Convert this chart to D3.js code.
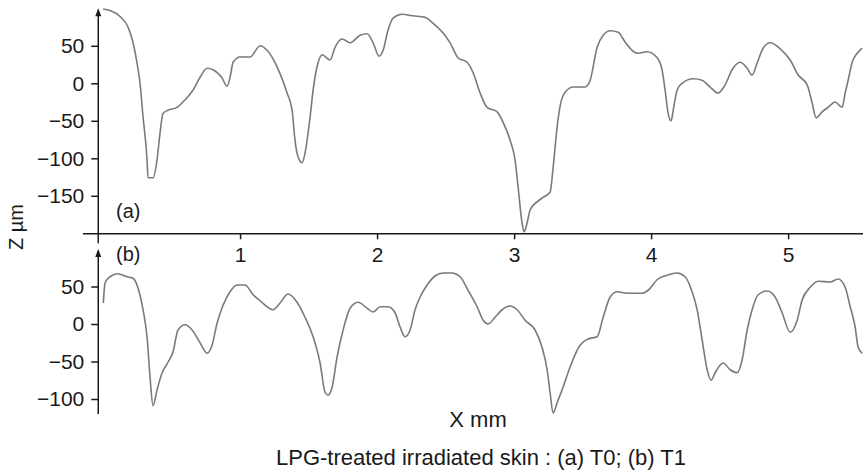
<!DOCTYPE html>
<html>
<head>
<meta charset="utf-8">
<script src="https://cdn.jsdelivr.net/npm/d3@7"></script>
<style>
  body { margin: 0; background: #fff; }
  text { font-family: "Liberation Sans", Arial, sans-serif; fill: #1a1a1a; }
</style>
</head>
<body>
<svg id="profile" width="863" height="473"></svg>
<script>
// profile (a) T0 : X mm / Z µm
let topX = [0.000, 0.051, 0.124, 0.182, 0.219, 0.248, 0.270, 0.292, 0.321, 0.328, 0.365, 0.394, 0.416, 0.438, 0.474,
  0.540, 0.599, 0.657, 0.708, 0.759, 0.803, 0.869, 0.905, 0.927, 0.949, 1.000, 1.073, 1.146, 1.197, 1.270,
  1.343, 1.380, 1.401, 1.423, 1.453, 1.474, 1.511, 1.533, 1.569, 1.599, 1.657, 1.693, 1.745, 1.803, 1.876,
  1.927, 1.971, 2.015, 2.044, 2.080, 2.117, 2.182, 2.263, 2.350, 2.409, 2.482, 2.533, 2.591, 2.657, 2.701,
  2.752, 2.803, 2.876, 2.920, 2.971, 3.007, 3.029, 3.058, 3.073, 3.095, 3.117, 3.168, 3.212, 3.263, 3.285,
  3.314, 3.336, 3.372, 3.431, 3.518, 3.555, 3.606, 3.650, 3.701, 3.759, 3.810, 3.861, 3.905, 3.971, 4.044,
  4.080, 4.102, 4.124, 4.146, 4.161, 4.190, 4.226, 4.307, 4.372, 4.431, 4.489, 4.540, 4.591, 4.650, 4.701,
  4.737, 4.774, 4.818, 4.869, 4.942, 5.015, 5.073, 5.139, 5.175, 5.204, 5.248, 5.292, 5.343, 5.394, 5.416,
  5.438, 5.467, 5.504, 5.540];
let topZ = [99, 97, 89, 75, 54, 27, 0, -45, -102, -126, -126, -102, -66, -40, -36,
  -32, -22, -9, 8, 20, 18, 7, -4, 8, 28, 35, 35, 50, 44, 22,
  -13, -36, -76, -98, -106, -93, -45, -9, 27, 38, 31, 48, 59, 54, 64,
  66, 54, 36, 44, 71, 87, 92, 90, 88, 80, 67, 54, 34, 28, 14,
  -13, -32, -38, -52, -76, -102, -138, -186, -198, -186, -169, -158, -152, -145, -112,
  -58, -30, -12, -5, -5, 4, 48, 64, 70, 68, 55, 44, 40, 42, 34,
  18, -9, -40, -50, -36, -9, 0, 6, 4, -5, -13, -2, 18, 28, 20,
  11, 27, 47, 54, 46, 31, 11, -2, -26, -46, -38, -32, -25, -32, -13,
  4, 28, 40, 47];

// profile (b) T1
let botX = [0.002, 0.015, 0.051, 0.109, 0.175, 0.219, 0.255, 0.292, 0.321, 0.343, 0.365, 0.394, 0.431, 0.474, 0.511,
  0.547, 0.599, 0.650, 0.708, 0.759, 0.796, 0.832, 0.876, 0.927, 0.978, 1.036, 1.095, 1.146, 1.241, 1.292,
  1.350, 1.416, 1.474, 1.533, 1.584, 1.620, 1.642, 1.672, 1.708, 1.752, 1.803, 1.861, 1.927, 1.971, 2.022,
  2.080, 2.131, 2.168, 2.204, 2.241, 2.277, 2.314, 2.365, 2.423, 2.482, 2.547, 2.606, 2.664, 2.730, 2.774,
  2.810, 2.861, 2.912, 2.971, 3.022, 3.080, 3.153, 3.204, 3.241, 3.263, 3.285, 3.314, 3.358, 3.409, 3.482,
  3.540, 3.606, 3.650, 3.701, 3.752, 3.825, 3.934, 3.978, 4.044, 4.117, 4.190, 4.248, 4.299, 4.336, 4.372,
  4.409, 4.438, 4.467, 4.526, 4.577, 4.628, 4.664, 4.701, 4.737, 4.781, 4.847, 4.905, 4.956, 5.015, 5.066,
  5.102, 5.161, 5.219, 5.307, 5.365, 5.416, 5.453, 5.489, 5.511, 5.540];
let botZ = [28, 55, 63, 67, 63, 61, 48, 19, -17, -71, -109, -88, -65, -51, -37,
  -8, -1, -8, -25, -39, -28, 1, 25, 43, 52, 52, 39, 31, 19, 28,
  40, 29, 9, -17, -52, -91, -95, -84, -44, -8, 21, 29, 21, 16, 23,
  23, 15, -4, -17, -8, 19, 36, 52, 64, 68, 68, 63, 45, 23, 5,
  0, 9, 19, 24, 19, 5, -8, -31, -61, -92, -119, -105, -84, -57, -28,
  -20, -17, 9, 36, 43, 41, 41, 45, 59, 65, 68, 63, 43, 19, -21,
  -61, -75, -65, -52, -61, -65, -48, -8, 19, 39, 44, 36, 15, -11, 5,
  32, 49, 57, 56, 60, 49, 23, -4, -31, -39];

let xTicks = [1, 2, 3, 4, 5],
    topTicks = [50, 0, -50, -100, -150],
    botTicks = [50, 0, -50, -100];

let svg = d3.select("#profile"),
    fontSize = 21,
    lineColor = "#7a7a7a",
    axisColor = "#1a1a1a",
    yAxisAt = -0.035; // vertical axes sit a hair left of X = 0

//define scales
let x = d3.scaleLinear().domain([-0.15, 5.55]).range([82.5, 863.5]),
    yTop = d3.scaleLinear().domain([-200, 100]).range([233.3, 8.3]),
    yBot = d3.scaleLinear().domain([-120, 100]).range([414, 249]);

let line = d3.line().curve(d3.curveMonotoneX);

//curves
svg.append("path")
    .attr("d", line(topX.map(function(d, i) { return [x(d), yTop(topZ[i])]; })))
    .style("fill", "none")
    .style("stroke", lineColor)
    .style("stroke-width", 1.6);

svg.append("path")
    .attr("d", line(botX.map(function(d, i) { return [x(d), yBot(botZ[i])]; })))
    .style("fill", "none")
    .style("stroke", lineColor)
    .style("stroke-width", 1.6);

//x axis shared between the panels
let xAxis = svg.append("g")
    .attr("transform", "translate(0," + yTop(-200) + ")")
    .call(d3.axisBottom(x).tickValues(xTicks).tickSize(6).tickPadding(8).tickSizeOuter(0).tickFormat(d3.format("d")));

//y axes
let yAxisTop = svg.append("g")
    .attr("transform", "translate(" + x(yAxisAt) + ",0)")
    .call(d3.axisLeft(yTop).tickValues(topTicks).tickSize(7).tickPadding(7).tickSizeOuter(0));

let yAxisBot = svg.append("g")
    .attr("transform", "translate(" + x(yAxisAt) + ",0)")
    .call(d3.axisLeft(yBot).tickValues(botTicks).tickSize(7).tickPadding(7).tickSizeOuter(0));

// arrows replace the plain domain lines of the y axes
yAxisTop.select(".domain").remove();
yAxisBot.select(".domain").remove();

[[yTop(100), yTop(-200) + 10], [yBot(100), yBot(-120)]].forEach(function(r) {
    svg.append("line")
        .attr("x1", x(yAxisAt)).attr("x2", x(yAxisAt))
        .attr("y1", r[0] + 2).attr("y2", r[1])
        .style("stroke", axisColor)
        .style("stroke-width", 1.5);
    svg.append("path")
        .attr("d", "M" + x(yAxisAt) + "," + r[0] + "l-3,8h6z")
        .style("fill", axisColor);
});

svg.selectAll(".tick text").style("font-size", fontSize + "px").style("font-family", "'Liberation Sans', Arial, sans-serif").style("fill", axisColor);
svg.selectAll(".tick line, .domain").style("stroke", axisColor).style("stroke-width", 1.5);

//panel labels
svg.append("text").attr("x", 116).attr("y", 218).style("font-size", "20px").text("(a)");
svg.append("text").attr("x", 116).attr("y", 261).style("font-size", "20px").text("(b)");

//axis titles
svg.append("text")
    .attr("transform", "translate(23,227) rotate(-90)")
    .attr("text-anchor", "middle")
    .style("font-size", "20px")
    .text("Z µm");

svg.append("text")
    .attr("x", 478).attr("y", 427)
    .attr("text-anchor", "middle")
    .style("font-size", "22px")
    .text("X mm");

//caption
svg.append("text")
    .attr("x", 481).attr("y", 465)
    .attr("text-anchor", "middle")
    .style("font-size", "22px")
    .text("LPG-treated irradiated skin : (a) T0; (b) T1");
</script>
</body>
</html>
